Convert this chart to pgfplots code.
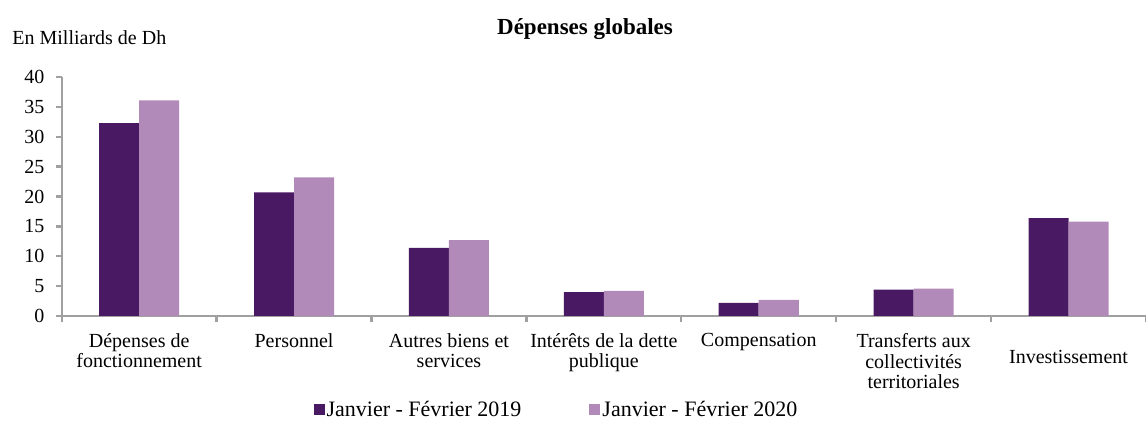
\documentclass[border=0pt]{standalone}
\usepackage{fontspec}
\setmainfont{Liberation Serif}
\usepackage{pgfplots}
\pgfplotsset{compat=1.18}
\definecolor{c19}{HTML}{4A1963}
\definecolor{c20}{HTML}{B28AB9}
\definecolor{axg}{HTML}{A0A0A0}
\begin{document}
\begin{tikzpicture}
\path[use as bounding box] (0,0) rectangle (573pt,215.5pt);
\begin{axis}[
  at={(30.85pt,57.5pt)}, anchor=south west,
  scale only axis, width=542.15pt, height=119.5pt,
  ymin=0, ymax=40, xmin=-0.5, xmax=6.5,
  ybar=0pt, bar width=20pt,
  axis x line*=bottom, axis y line*=left,
  axis line style={axg, line width=1pt, -},
  tick style={axg, line width=1.2pt},
  tick align=outside,
  major tick length=0pt, minor tick length=3pt,
  ytick={0,5,...,40},
  minor ytick={0,5,...,40},
  xtick={0,...,5},
  xticklabels={{Dépenses de\\fonctionnement},{Personnel},{Autres biens et\\services},{Intérêts de la dette\\publique},{Compensation},{Transferts aux\\collectivités\\territoriales}},
  extra x ticks={6},
  extra x tick labels={Investissement},
  extra x tick style={xticklabel style={yshift=-8.5pt}},
  minor xtick={-0.5,0.5,...,6.5},
  tick label style={font=\fontsize{10}{10.3}\selectfont},
  xticklabel style={align=center, anchor=north, inner sep=0pt, yshift=-8.5pt},
  yticklabel style={anchor=east, inner sep=0pt, xshift=-8.5pt},
  /pgf/number format/assume math mode=true,
  legend style={at={(0.4563,-0.393)}, anchor=center, draw=none, fill=none,
    font=\fontsize{11}{13}\selectfont, legend columns=2,
    /tikz/every even column/.append style={column sep=33pt},
    nodes={inner sep=1pt}},
  legend image code/.code={\fill[#1, draw=none] (0pt,-2.75pt) rectangle (5.5pt,2.75pt);},
]
\addplot[fill=c19, draw=none] coordinates {(0,32.3) (1,20.7) (2,11.4) (3,4.0) (4,2.2) (5,4.4) (6,16.4)};
\addplot[fill=c20, draw=none] coordinates {(0,36.1) (1,23.2) (2,12.7) (3,4.2) (4,2.7) (5,4.6) (6,15.8)};
\legend{Janvier - Février 2019, Janvier - Février 2020}
\end{axis}
\node[font=\bfseries\fontsize{11.5}{13}\selectfont] at (292.5pt,201pt) {Dépenses globales};
\node[font=\fontsize{10}{12}\selectfont, anchor=west, inner sep=0pt] at (6pt,196.75pt) {En Milliards de Dh};
\end{tikzpicture}
\end{document}
